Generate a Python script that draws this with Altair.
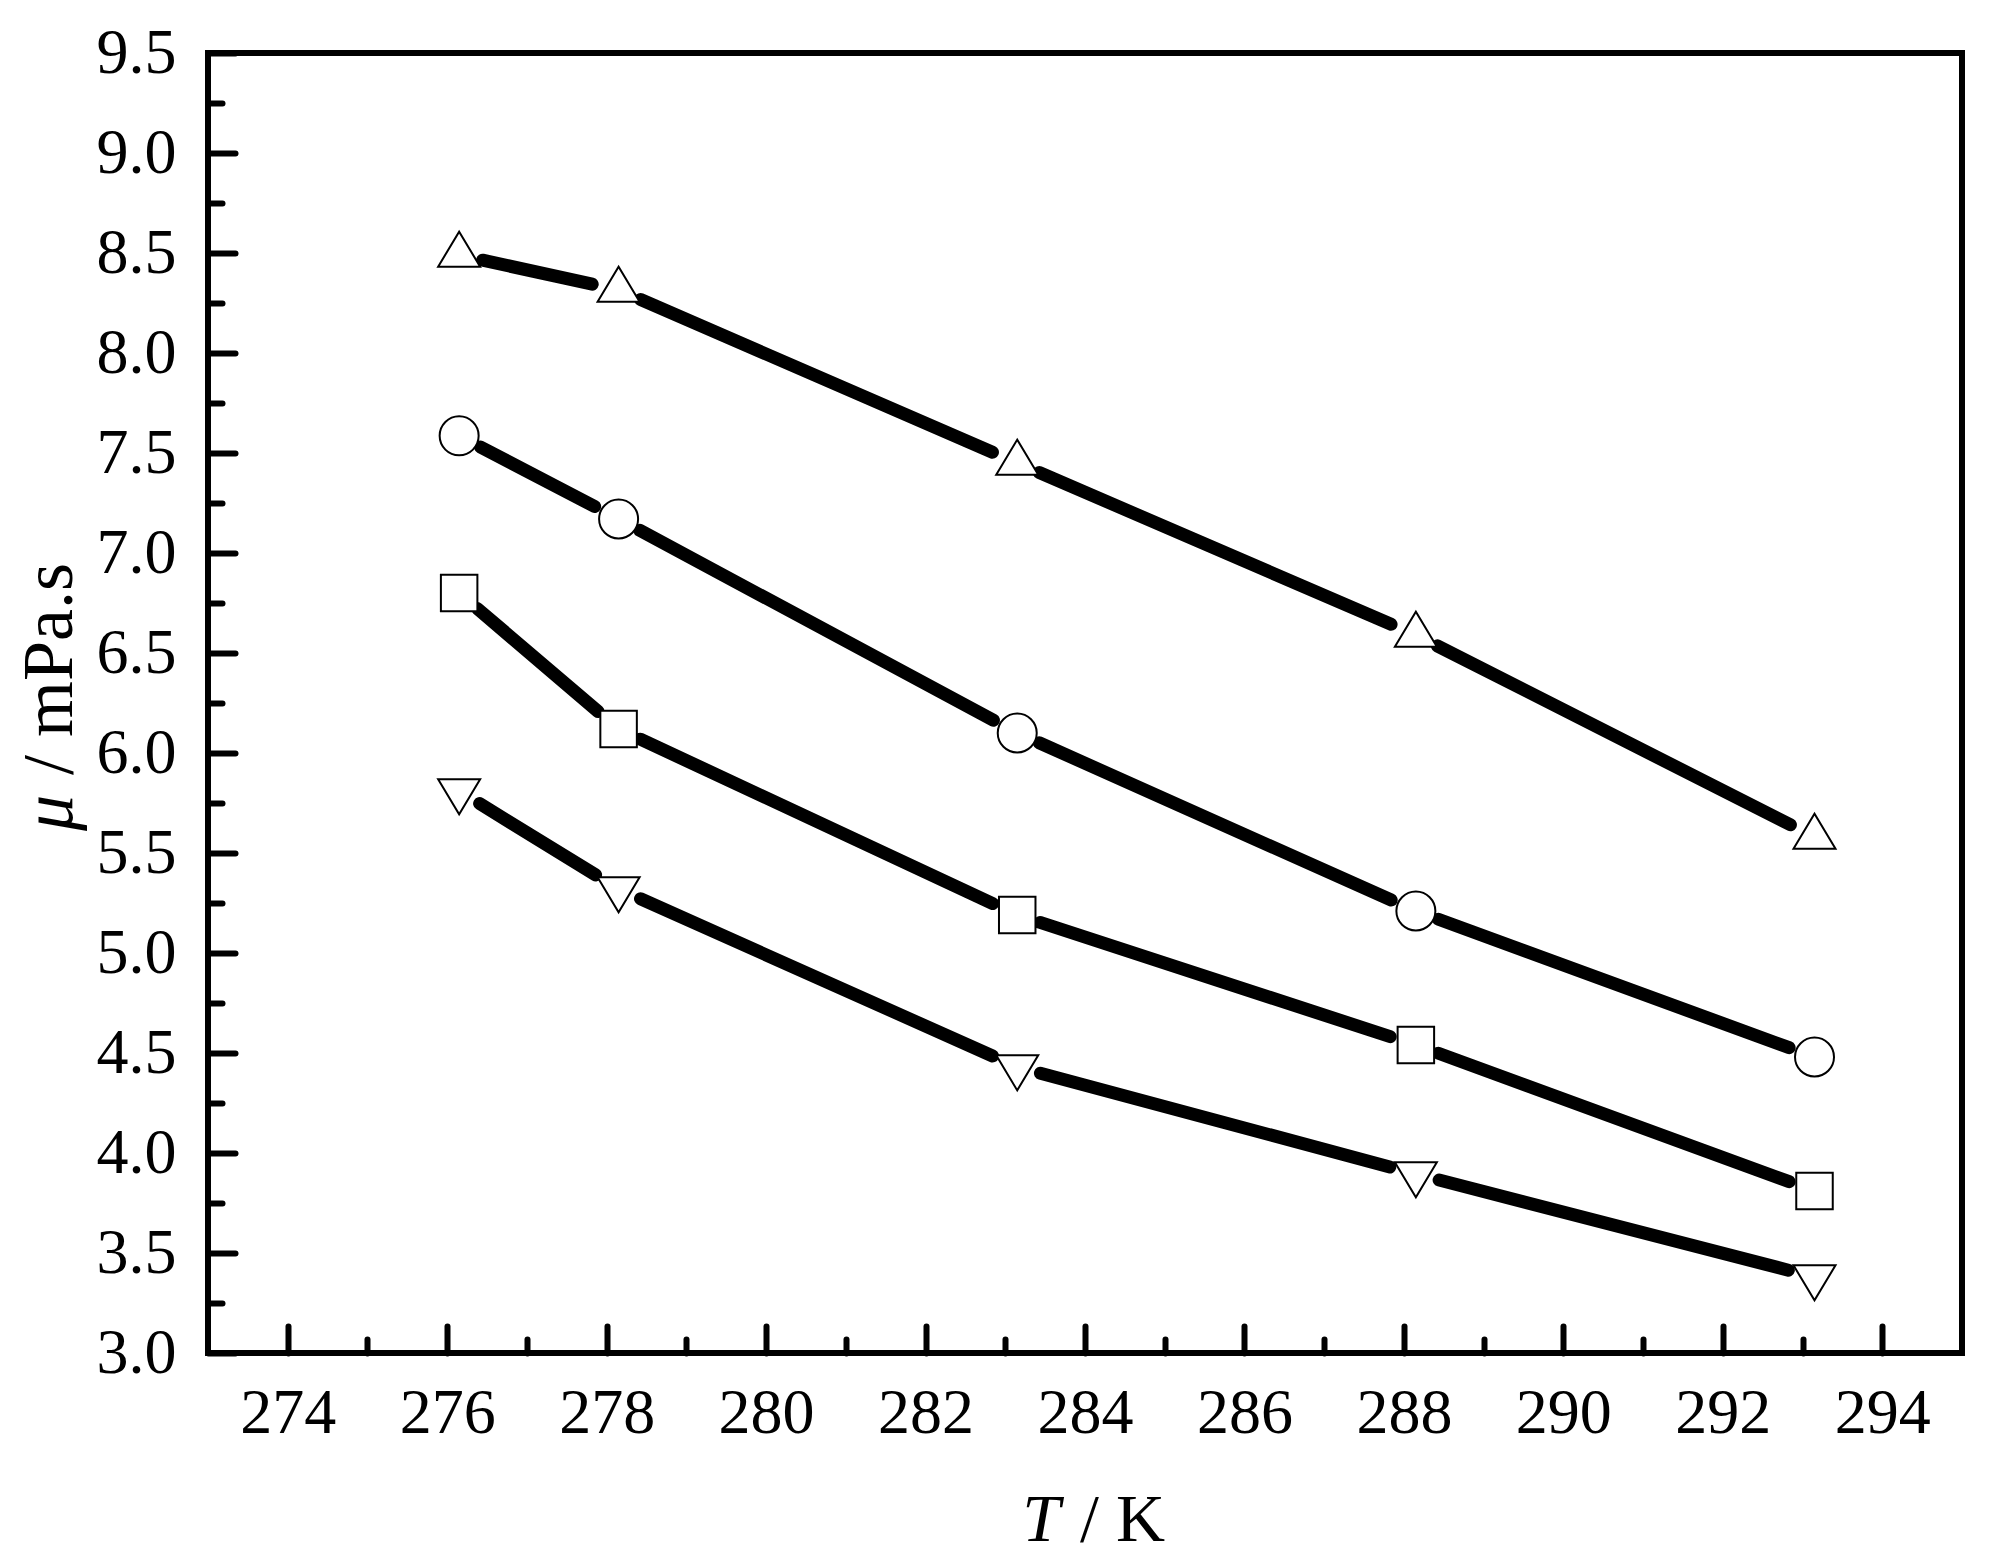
import math
import altair as alt
import pandas as pd

# ---- data ----
T = [276.15, 278.15, 283.15, 288.15, 293.15]
mu_up = [8.49, 8.315, 7.45, 6.59, 5.58]        # open up-triangles
mu_circle = [7.586, 7.17, 6.10, 5.21, 4.48]    # open circles
mu_square = [6.80, 6.12, 5.19, 4.54, 3.81]     # open squares
mu_down = [5.81, 5.32, 4.43, 3.895, 3.38]      # open down-triangles

x_major = [274, 276, 278, 280, 282, 284, 286, 288, 290, 292, 294]
x_minor = [275, 277, 279, 281, 283, 285, 287, 289, 291, 293]
y_major = [3.0, 3.5, 4.0, 4.5, 5.0, 5.5, 6.0, 6.5, 7.0, 7.5, 8.0, 8.5, 9.0, 9.5]
y_minor = [3.25, 3.75, 4.25, 4.75, 5.25, 5.75, 6.25, 6.75, 7.25, 7.75, 8.25, 8.75, 9.25]

x_domain = [273, 295]
y_domain = [3.0, 9.5]

# ---- layout ----
W, H = 1754, 1300
FONT = "Liberation Serif"
sx = W / (x_domain[1] - x_domain[0])
sy = H / (y_domain[1] - y_domain[0])
gap_start, gap_end = 24, 27  # gap (px) between symbol centre and line end

series = {"up": mu_up, "circle": mu_circle, "square": mu_square, "down": mu_down}

rows = []
for name, mu in series.items():
    for i in range(len(T) - 1):
        t1, t2, m1, m2 = T[i], T[i + 1], mu[i], mu[i + 1]
        dxp, dyp = (t2 - t1) * sx, (m2 - m1) * sy
        L = math.hypot(dxp, dyp)
        ux, uy = dxp / L, dyp / L
        rows.append({
            "series": name,
            "x1": t1 + gap_start * ux / sx, "y1": m1 + gap_start * uy / sy,
            "x2": t2 - gap_end * ux / sx, "y2": m2 - gap_end * uy / sy,
        })
seg_df = pd.DataFrame(rows)

xscale = alt.Scale(domain=x_domain, nice=False, zero=False)
yscale = alt.Scale(domain=y_domain, nice=False, zero=False)

common = dict(domain=False, grid=False, title=None, tickColor="black",
              tickWidth=6, tickCap="round")
ax_x_major = alt.Axis(values=x_major, orient="bottom", offset=-27, tickSize=27,
                      labelFont=FONT, labelFontSize=64, labelColor="black",
                      labelPadding=28, format="d", labelFlush=False,
                      labelOverlap=False, **common)
ax_x_minor = alt.Axis(values=x_minor, orient="bottom", offset=-14, tickSize=14,
                      labels=False, **common)
ax_y_major = alt.Axis(values=y_major, orient="left", offset=-27, tickSize=27,
                      labelFont=FONT, labelFontSize=64, labelColor="black",
                      labelPadding=32, format=".1f", labelFlush=False,
                      labelOverlap=False, **common)
ax_y_minor = alt.Axis(values=y_minor, orient="left", offset=-14, tickSize=14,
                      labels=False, **common)

lines = alt.Chart(seg_df).mark_rule(strokeWidth=13, strokeCap="round", color="black").encode(
    x=alt.X("x1:Q", scale=xscale, axis=ax_x_major),
    x2="x2:Q",
    y=alt.Y("y1:Q", scale=yscale, axis=ax_y_major),
    y2="y2:Q",
)

minor = alt.Chart(pd.DataFrame({"x": [x_minor[0]], "y": [y_minor[0]]})).mark_point(opacity=0).encode(
    x=alt.X("x:Q", scale=xscale, axis=ax_x_minor),
    y=alt.Y("y:Q", scale=yscale, axis=ax_y_minor),
)

UP_PATH = "M -1 0.556 L 1 0.556 L 0 -1.111 Z"
DOWN_PATH = "M -1 -0.556 L 1 -0.556 L 0 1.111 Z"


def markers(mu, shape, size):
    df = pd.DataFrame({"T": T, "mu": mu})
    return alt.Chart(df).mark_point(shape=shape, size=size, filled=True, fill="white",
                                    stroke="black", strokeWidth=2, opacity=1).encode(
        x=alt.X("T:Q", scale=xscale, axis=None),
        y=alt.Y("mu:Q", scale=yscale, axis=None),
    )


m_up = markers(mu_up, UP_PATH, 1764)
m_circle = markers(mu_circle, "circle", 1521)
m_square = markers(mu_square, "square", 1332)
m_down = markers(mu_down, DOWN_PATH, 1764)

# axis titles (italic symbol + upright unit)
TFS = 68
xt1 = alt.Chart(pd.DataFrame({"t": ["T"]})).mark_text(
    font=FONT, fontSize=TFS, fontStyle="italic", align="right", baseline="alphabetic", color="black"
).encode(text="t:N", x=alt.value(852), y=alt.value(1488))
xt2 = alt.Chart(pd.DataFrame({"t": ["/ K"]})).mark_text(
    font=FONT, fontSize=TFS, align="left", baseline="alphabetic", color="black"
).encode(text="t:N", x=alt.value(872), y=alt.value(1488))

YFS = 72
yt1 = alt.Chart(pd.DataFrame({"t": ["\u03bc"]})).mark_text(
    font=FONT, fontSize=YFS, fontStyle="italic", align="left", baseline="alphabetic",
    angle=270, color="black"
).encode(text="t:N", x=alt.value(-136), y=alt.value(778))
yt2 = alt.Chart(pd.DataFrame({"t": ["/ mPa.s"]})).mark_text(
    font=FONT, fontSize=YFS, align="left", baseline="alphabetic", angle=270, color="black"
).encode(text="t:N", x=alt.value(-136), y=alt.value(722))

chart = alt.layer(lines, minor, m_up, m_circle, m_square, m_down, xt1, xt2, yt1, yt2).resolve_scale(
    x="shared", y="shared"
).resolve_axis(
    x="independent", y="independent"
).properties(
    width=W, height=H,
    autosize=alt.AutoSizeParams(type="none"),
    padding={"left": 200, "top": 45, "right": 21, "bottom": 206},
    background="white",
).configure_view(
    stroke="black", strokeWidth=6
)

chart.save("out.html", embed_options={"renderer": "svg", "actions": False})
